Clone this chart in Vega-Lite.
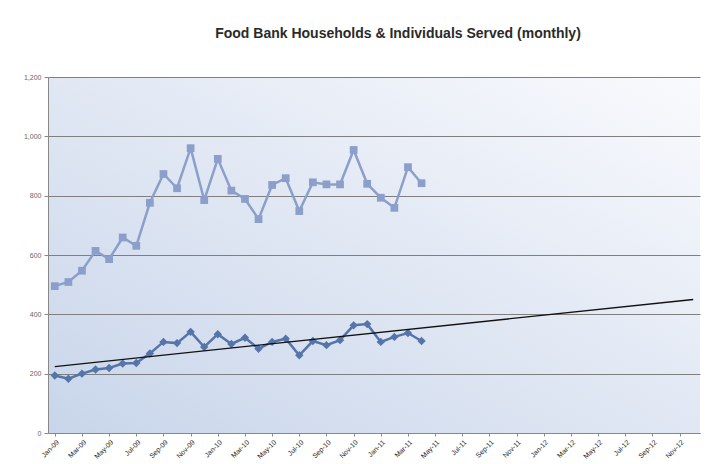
{
  "$schema": "https://vega.github.io/schema/vega-lite/v6.json",
  "autosize": "none",
  "width": 652,
  "height": 356,
  "padding": {"left": 48, "top": 77, "right": 7, "bottom": 31},
  "background": "#ffffff",
  "title": {
    "text": "Food Bank Households & Individuals Served (monthly)",
    "fontSize": 14,
    "font": "Liberation Sans",
    "fontWeight": "bold",
    "color": "#2a2a2a",
    "anchor": "middle",
    "dx": 24,
    "offset": 32
  },
  "datasets": {
    "served": [
      {"month": "Jan-09", "series": "Individuals", "value": 495},
      {"month": "Feb-09", "series": "Individuals", "value": 509},
      {"month": "Mar-09", "series": "Individuals", "value": 547},
      {"month": "Apr-09", "series": "Individuals", "value": 614},
      {"month": "May-09", "series": "Individuals", "value": 586},
      {"month": "Jun-09", "series": "Individuals", "value": 659},
      {"month": "Jul-09", "series": "Individuals", "value": 631},
      {"month": "Aug-09", "series": "Individuals", "value": 776},
      {"month": "Sep-09", "series": "Individuals", "value": 873},
      {"month": "Oct-09", "series": "Individuals", "value": 825},
      {"month": "Nov-09", "series": "Individuals", "value": 960},
      {"month": "Dec-09", "series": "Individuals", "value": 785},
      {"month": "Jan-10", "series": "Individuals", "value": 924},
      {"month": "Feb-10", "series": "Individuals", "value": 817},
      {"month": "Mar-10", "series": "Individuals", "value": 789},
      {"month": "Apr-10", "series": "Individuals", "value": 721},
      {"month": "May-10", "series": "Individuals", "value": 836},
      {"month": "Jun-10", "series": "Individuals", "value": 859},
      {"month": "Jul-10", "series": "Individuals", "value": 748},
      {"month": "Aug-10", "series": "Individuals", "value": 845},
      {"month": "Sep-10", "series": "Individuals", "value": 838},
      {"month": "Oct-10", "series": "Individuals", "value": 838},
      {"month": "Nov-10", "series": "Individuals", "value": 954},
      {"month": "Dec-10", "series": "Individuals", "value": 840},
      {"month": "Jan-11", "series": "Individuals", "value": 793},
      {"month": "Feb-11", "series": "Individuals", "value": 759},
      {"month": "Mar-11", "series": "Individuals", "value": 896},
      {"month": "Apr-11", "series": "Individuals", "value": 842},
      {"month": "Jan-09", "series": "Households", "value": 194},
      {"month": "Feb-09", "series": "Households", "value": 183},
      {"month": "Mar-09", "series": "Households", "value": 200},
      {"month": "Apr-09", "series": "Households", "value": 214},
      {"month": "May-09", "series": "Households", "value": 219},
      {"month": "Jun-09", "series": "Households", "value": 234},
      {"month": "Jul-09", "series": "Households", "value": 236},
      {"month": "Aug-09", "series": "Households", "value": 268},
      {"month": "Sep-09", "series": "Households", "value": 307},
      {"month": "Oct-09", "series": "Households", "value": 303},
      {"month": "Nov-09", "series": "Households", "value": 341},
      {"month": "Dec-09", "series": "Households", "value": 290},
      {"month": "Jan-10", "series": "Households", "value": 333},
      {"month": "Feb-10", "series": "Households", "value": 300},
      {"month": "Mar-10", "series": "Households", "value": 321},
      {"month": "Apr-10", "series": "Households", "value": 284},
      {"month": "May-10", "series": "Households", "value": 307},
      {"month": "Jun-10", "series": "Households", "value": 318},
      {"month": "Jul-10", "series": "Households", "value": 262},
      {"month": "Aug-10", "series": "Households", "value": 310},
      {"month": "Sep-10", "series": "Households", "value": 296},
      {"month": "Oct-10", "series": "Households", "value": 313},
      {"month": "Nov-10", "series": "Households", "value": 363},
      {"month": "Dec-10", "series": "Households", "value": 367},
      {"month": "Jan-11", "series": "Households", "value": 307},
      {"month": "Feb-11", "series": "Households", "value": 324},
      {"month": "Mar-11", "series": "Households", "value": 337},
      {"month": "Apr-11", "series": "Households", "value": 310}
    ],
    "trend": [
      {"month": "Jan-09", "value": 224},
      {"month": "Dec-12", "value": 450}
    ]
  },
  "encoding": {
    "x": {
      "field": "month",
      "type": "ordinal",
      "sort": null,
      "scale": {
        "type": "point",
        "padding": 0.5,
        "domain": ["Jan-09","Feb-09","Mar-09","Apr-09","May-09","Jun-09","Jul-09","Aug-09","Sep-09","Oct-09","Nov-09","Dec-09",
                   "Jan-10","Feb-10","Mar-10","Apr-10","May-10","Jun-10","Jul-10","Aug-10","Sep-10","Oct-10","Nov-10","Dec-10",
                   "Jan-11","Feb-11","Mar-11","Apr-11","May-11","Jun-11","Jul-11","Aug-11","Sep-11","Oct-11","Nov-11","Dec-11",
                   "Jan-12","Feb-12","Mar-12","Apr-12","May-12","Jun-12","Jul-12","Aug-12","Sep-12","Oct-12","Nov-12","Dec-12"]
      },
      "axis": {
        "title": null,
        "values": ["Jan-09","Mar-09","May-09","Jul-09","Sep-09","Nov-09","Jan-10","Mar-10","May-10","Jul-10","Sep-10","Nov-10",
                   "Jan-11","Mar-11","May-11","Jul-11","Sep-11","Nov-11","Jan-12","Mar-12","May-12","Jul-12","Sep-12","Nov-12"],
        "labelAngle": -45,
        "labelFontSize": 7,
        "labelFont": "Liberation Sans",
        "labelColor": "#222222",
        "labelPadding": 2,
        "tickSize": 3,
        "tickColor": "#888888",
        "domainColor": "#888888",
        "grid": false
      }
    },
    "y": {
      "field": "value",
      "type": "quantitative",
      "scale": {"domain": [0, 1200], "nice": false},
      "axis": {
        "title": null,
        "values": [0, 200, 400, 600, 800, 1000, 1200],
        "format": ",.0f",
        "labelFontSize": 7,
        "labelFont": "Liberation Sans",
        "labelColor": "#666666",
        "labelPadding": 3,
        "tickSize": 4,
        "tickColor": "#888888",
        "domainColor": "#888888",
        "grid": true,
        "gridColor": "#7f7f7f",
        "gridWidth": 1.2
      }
    }
  },
  "layer": [
    {
      "data": {"name": "served"},
      "transform": [{"filter": "datum.series === 'Individuals'"}],
      "mark": {
        "type": "line",
        "color": "#8c9fca",
        "strokeWidth": 2.5,
        "point": {"shape": "square", "size": 60, "filled": true, "color": "#8c9fca"}
      }
    },
    {
      "data": {"name": "served"},
      "transform": [{"filter": "datum.series === 'Households'"}],
      "mark": {
        "type": "line",
        "color": "#5575aa",
        "strokeWidth": 2.5,
        "point": {"shape": "diamond", "size": 70, "filled": true, "color": "#5575aa"}
      }
    },
    {
      "data": {"name": "trend"},
      "mark": {"type": "line", "color": "#111111", "strokeWidth": 1.3}
    }
  ],
  "config": {
    "view": {
      "stroke": null,
      "fill": {
        "gradient": "linear",
        "x1": 0, "y1": 1, "x2": 1, "y2": 0,
        "stops": [
          {"offset": 0, "color": "#c8d5ea"},
          {"offset": 1, "color": "#f9fafd"}
        ]
      }
    }
  }
}
